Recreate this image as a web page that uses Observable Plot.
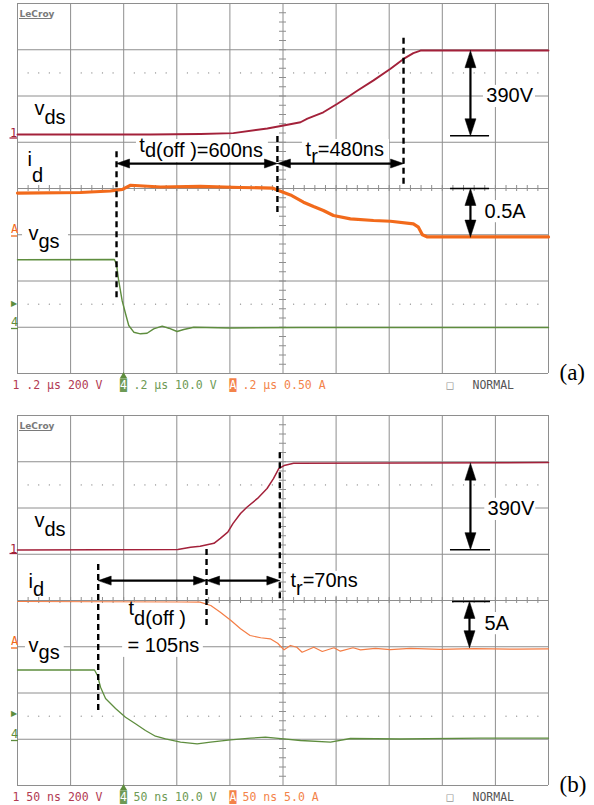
<!DOCTYPE html>
<html><head><meta charset="utf-8">
<script src="https://cdn.jsdelivr.net/npm/d3@7"></script>
<script src="https://cdn.jsdelivr.net/npm/@observablehq/plot@0.6"></script>
<style>
html,body{margin:0;padding:0;background:#fff;}
svg{display:block;}
</style></head><body><div id="chart"></div>
<script>
// ---------- Panel (a): 0.2 us/div ----------
const vdsA_t = [0, 500, 689, 813, 941, 1002, 1066, 1092, 1152, 1205, 1243, 1281, 1341, 1405, 1454, 1491, 1518, 2000];
const vdsA_v = [0, 0, 2, 6, 26, 39, 53, 69, 96, 133, 161, 190, 234, 284, 327, 352, 363, 363];
const idA_t = [0, 237, 350, 395, 426, 539, 689, 840, 960, 983, 1028, 1077, 1115, 1152, 1190, 1254, 1341, 1405, 1491, 1510, 1525, 1544, 2000];
const idA_i = [0.451, 0.457, 0.473, 0.49, 0.535, 0.516, 0.522, 0.511, 0.505, 0.478, 0.430, 0.352, 0.305, 0.262, 0.208, 0.172, 0.154, 0.146, 0.118, 0.082, 0.0, -0.024, -0.024];
const vgsA_t = [0, 365, 373, 381, 394, 407, 419, 438, 463, 488, 513, 545, 570, 601, 626, 664, 802, 1066, 2000];
const vgsA_v = [14.58, 14.65, 13.57, 10.11, 5.79, 2.91, 0.38, -1.07, -1.42, -1.29, -0.34, 0.23, -0.21, -0.92, -0.49, 0.01, -0.16, -0.05, -0.05];

// ---------- Panel (b): 50 ns/div ----------
const vdsB_t = [0, 151, 163, 172, 185, 191, 198, 203, 210, 216, 226, 235, 241, 246, 251, 260, 500];
const vdsB_v = [0, 2, 12, 16, 29, 50, 77, 115, 158, 185, 223, 266, 309, 352, 365, 375, 378];
const idB_t = [0, 154, 172, 182, 191, 201, 210, 219, 229, 238, 245, 251, 257, 263, 268, 279, 287, 298, 304, 316, 323, 337, 351, 370, 398, 430, 470, 500];
const idB_i = [4.89, 4.84, 4.82, 4.46, 3.73, 2.84, 1.94, 1.22, 0.97, 0.86, 0.38, -0.33, 0.14, -0.05, -0.59, -0.05, -0.51, -0.11, -0.48, -0.11, -0.33, -0.17, -0.32, -0.18, -0.28, -0.2, -0.26, -0.22];
const vgsB_t = [0, 72.5, 75.3, 78.2, 82.9, 92.3, 101.7, 111.1, 120.5, 129.9, 139.4, 153.5, 169.2, 181.7, 200.6, 219.4, 233.5, 250.5, 266.5, 294.7, 313.5, 360.6, 436, 500];
const vgsB_v = [14.97, 14.97, 13.78, 11.25, 8.81, 6.65, 4.77, 3.34, 1.89, 0.66, 0.10, -0.64, -0.98, -0.64, -0.12, 0.23, 0.44, 0.10, -0.27, -0.64, 0.16, 0.05, 0.23, 0.23];

// Channel settings (per division) and scope readouts
const scaleA = {vds: 200, id: 0.5, vgs: 10, ns: 200};
const scaleB = {vds: 200, id: 5, vgs: 10, ns: 50};
const footerA = ["1 .2 μs 200 V", ".2 μs 10.0 V", ".2 μs 0.50 A", "NORMAL"];
const footerB = ["1 50 ns 200 V", "50 ns 10.0 V", "50 ns 5.0 A", "NORMAL"];

// Annotations (time in ns, level in divisions from bottom)
const labelsA = [
  {text: "v_{ds}", t: 64, y: 5.58, shift: 9},
  {text: "i_{d}", t: 38, y: 4.48, shift: 16},
  {text: "v_{gs}", t: 41, y: 2.88, shift: 8},
  {text: "t_{d(off )=600ns}", t: 459, y: 4.78, shift: 5},
  {text: "t_{r}=480ns", t: 1085, y: 4.71, shift: 7},
  {text: "390V", t: 1766, y: 5.86},
  {text: "0.5A", t: 1759, y: 3.37}
];
const boxesA = [
  {t1: 19, t2: 192, y1: 2.55, y2: 3.18},
  {t1: 448, t2: 945, y1: 4.56, y2: 5.06},
  {t1: 1073, t2: 1401, y1: 4.56, y2: 5.06},
  {t1: 1755, t2: 1951, y1: 5.75, y2: 6.23},
  {t1: 1747, t2: 1921, y1: 3.26, y2: 3.74}
];
const dashesA = [{t: 373, y1: 1.64, y2: 4.82}, {t: 979, y1: 3.48, y2: 5.15}, {t: 1454, y1: 4.09, y2: 7.26}];
const hArrowsA = [{t1: 373, t2: 979, y: 4.54}, {t1: 979, t2: 1454, y: 4.54}];
const vArrowsA = [{t: 1706, y1: 6.98, y2: 5.14}, {t: 1706, y1: 4.0, y2: 2.95}];
const barsA = [{t1: 1631, t2: 1778, y: 5.14}, {t1: 1631, t2: 1778, y: 4.0}];

const labelsB = [
  {text: "v_{ds}", t: 16, y: 5.58, shift: 9},
  {text: "i_{d}", t: 10.4, y: 4.28, shift: 8},
  {text: "v_{gs}", t: 10.4, y: 2.88, shift: 7},
  {text: "t_{d(off )}", t: 104.5, y: 3.68, shift: 10},
  {text: "= 105ns", t: 103.6, y: 2.89},
  {text: "t_{r}=70ns", t: 257, y: 4.29, shift: 8},
  {text: "390V", t: 442.6, y: 5.84},
  {text: "5A", t: 439.7, y: 3.37}
];
const boxesB = [
  {t1: 7.5, t2: 44, y1: 2.62, y2: 3.2},
  {t1: 99, t2: 175, y1: 2.77, y2: 3.96},
  {t1: 254, t2: 325, y1: 4.09, y2: 4.63},
  {t1: 440, t2: 488, y1: 5.73, y2: 6.21},
  {t1: 437, t2: 466, y1: 3.26, y2: 3.74}
];
const dashesB = [{t: 76, y1: 1.62, y2: 4.8}, {t: 178, y1: 3.46, y2: 5.12}, {t: 247, y1: 4.04, y2: 7.24}];
const hArrowsB = [{t1: 76, t2: 178, y: 4.43}, {t1: 178, t2: 247, y: 4.43}];
const vArrowsB = [{t: 426.5, y1: 6.97, y2: 5.10}, {t: 425.6, y1: 3.98, y2: 2.98}];
const barsB = [{t1: 407.7, t2: 445.4, y: 5.10}, {t1: 409.6, t2: 445.4, y: 3.98}];

// ---------- styling ----------
const GRID = "#8e8e8e";
const RED = "#a3213a", ORANGE_A = "#f26a1b", ORANGE_B = "#f47d45", GREEN = "#5e8d3e";
const F_RED = "#b23a52", F_GREEN = "#6d9a55", F_ORANGE = "#f3834a";
const SANS = "Liberation Sans, Arial, sans-serif";
const MONO = "DejaVu Sans Mono, monospace";

function series(ts, vs, perDiv, ground) {
  return ts.map((t, i) => ({t, d: ground + vs[i] / perDiv}));
}

function drawPanel(P) {
  const ns = P.sc.ns;
  const X = px => (px - 17) / 53.1 * ns;    // screen px -> ns
  const Y = py => (373 - py) / 46.25;       // screen px -> divisions
  const sx = ns / 53.1, sy = 1 / 46.25;
  const majorX = d3.range(11).map(i => i * ns);
  const majorY = d3.range(9);
  const minorX = d3.range(51).map(i => i * ns / 5);
  const minorY = d3.range(41).map(i => i / 5);
  const dots = [];
  for (const y of [1.5, 6.5]) for (let i = 1; i < 50; i++) if (i % 5) dots.push({t: i * ns / 5, y});

  const heads = []; let hid = 0;
  const head = (t, y, dir, L, W) => {
    const id = hid++;
    const pts = dir === "left" ? [[t, y], [t + L * sx, y + W * sy], [t + L * sx, y - W * sy]]
      : dir === "right" ? [[t, y], [t - L * sx, y + W * sy], [t - L * sx, y - W * sy]]
      : dir === "up" ? [[t, y], [t - W * sx, y - L * sy], [t + W * sx, y - L * sy]]
      : [[t, y], [t - W * sx, y + L * sy], [t + W * sx, y + L * sy]];
    for (const [a, b] of pts) heads.push({id, t: a, y: b});
    heads.push({id, t: pts[0][0], y: pts[0][1]});
  };
  P.hArrows.forEach(a => { head(a.t1, a.y, "left", 13, 4.5); head(a.t2, a.y, "right", 13, 4.5); });
  P.vArrows.forEach(a => { head(a.t, a.y1, "up", 17, 5.5); head(a.t, a.y2, "down", 17, 5.5); });

  const footer = [
    {s: P.footer[0], px: 12, c: F_RED},
    {s: P.footer[1], px: 133, c: F_GREEN},
    {s: P.footer[2], px: 242, c: F_ORANGE},
    {s: "□", px: 446, c: "#999"},
    {s: P.footer[3], px: 472, c: "#555"}
  ];
  const footBoxes = [{s: "4", px: 119.5, c: F_GREEN}, {s: "A", px: 229, c: F_ORANGE}];
  const markers = [
    {s: "1", px: 9.5, py: P.vdsGroundPx + 2.5, c: RED},
    {s: "A", px: 10.5, py: 232.5, c: ORANGE_A},
    {s: "4", px: 10.5, py: 325, c: GREEN}
  ];
  const markerLines = [
    {x1: 9.5, x2: 17, py: P.vdsGroundPx + 3.5, c: RED},
    {x1: 11, x2: 17, py: 235.5, c: ORANGE_A},
    {x1: 11, x2: 18, py: 328, c: GREEN}
  ];

  const svg = Plot.plot({
    width: 594, height: P.height,
    marginTop: 3, marginLeft: 17, marginRight: 46, marginBottom: P.height - 373,
    x: {domain: [0, 10 * ns], axis: null},
    y: {domain: [0, 8], axis: null},
    style: {background: "white", overflow: "visible", fontFamily: SANS},
    marks: [
      Plot.ruleX(majorX, {stroke: GRID, strokeWidth: 1}),
      Plot.ruleY(majorY, {stroke: GRID, strokeWidth: 1}),
      Plot.ruleX(minorX, {y1: () => 4 - 3 * sy, y2: () => 4 + 3 * sy, stroke: GRID}),
      Plot.ruleY(minorY, {x1: () => 5 * ns - 3.5 * sx, x2: () => 5 * ns + 3.5 * sx, stroke: GRID}),
      Plot.dot(dots, {x: "t", y: "y", r: 0.65, fill: "#8a8a8a", stroke: "none"}),
      Plot.rect(P.boxes, {x1: "t1", x2: "t2", y1: "y1", y2: "y2", fill: "white"}),
      ...P.traces.map(tr => Plot.line(tr.data, {x: "t", y: "d", stroke: tr.stroke, strokeWidth: tr.w, strokeLinejoin: "round"})),
      Plot.ruleX(P.dashes, {x: "t", y1: "y1", y2: "y2", stroke: "black", strokeWidth: 2.4, strokeDasharray: "6,4"}),
      Plot.ruleY(P.bars, {y: "y", x1: "t1", x2: "t2", stroke: "black", strokeWidth: 1.5}),
      Plot.ruleY(P.hArrows, {y: "y", x1: d => d.t1 + 6 * sx, x2: d => d.t2 - 6 * sx, stroke: "black", strokeWidth: 2.2}),
      Plot.ruleX(P.vArrows, {x: "t", y1: d => d.y2 + 8 * sy, y2: d => d.y1 - 8 * sy, stroke: "black", strokeWidth: 2.2}),
      Plot.line(heads, {x: "t", y: "y", z: "id", fill: "black", stroke: "black", strokeWidth: 0.5}),
      Plot.text(P.labels, {x: "t", y: "y", text: "text", textAnchor: "start", lineAnchor: "bottom", fontSize: 20, fontFamily: SANS, fill: "black"}),
      // scope chrome: logo, channel markers, trigger, readouts, panel tag
      Plot.text(["LeCroy"], {x: () => X(19), y: () => Y(16), textAnchor: "start", lineAnchor: "bottom", fontSize: 9, fontWeight: "bold", fontFamily: "DejaVu Sans, sans-serif", fill: "#7a7a7a"}),
      Plot.ruleY([0], {y: () => Y(18), x1: () => X(19), x2: () => X(50), stroke: "#7a7a7a", strokeWidth: 1}),
      Plot.text(markers, {x: d => X(d.px), y: d => Y(d.py), text: "s", fill: "c", textAnchor: "start", lineAnchor: "bottom", fontSize: 12, fontFamily: MONO}),
      Plot.ruleY(markerLines, {y: d => Y(d.py), x1: d => X(d.x1), x2: d => X(d.x2), stroke: "c", strokeWidth: 1.3}),
      Plot.text(["▶"], {x: () => X(13.5), y: () => Y(P.trigPx), text: d => d, fill: GREEN, fontSize: 8, fontFamily: "DejaVu Sans, sans-serif"}),
      Plot.dot([0], {x: () => X(123), y: () => Y(375.5), symbol: "triangle", r: 2.6, fill: GREEN, stroke: "none"}),
      Plot.text(footBoxes, {x: d => X(d.px), y: () => Y(388.5), text: () => "█", fill: "c", textAnchor: "start", lineAnchor: "bottom", fontSize: 11.5, fontFamily: MONO}),
      Plot.text(footBoxes, {x: d => X(d.px), y: () => Y(388.5), text: "s", fill: "white", textAnchor: "start", lineAnchor: "bottom", fontSize: 11.5, fontFamily: MONO}),
      Plot.text(footer, {x: d => X(d.px), y: () => Y(388.5), text: "s", fill: "c", textAnchor: "start", lineAnchor: "bottom", fontSize: 11.5, fontFamily: MONO}),
      Plot.text([P.tag], {x: () => X(559), y: () => Y(379), text: d => d, textAnchor: "start", lineAnchor: "bottom", fontSize: 23, fontFamily: "Liberation Serif, Times New Roman, serif", fill: "black"})
    ]
  });

  // subscripts: "main_{sub}rest"
  const shifts = new Map(P.labels.map(l => [l.text, l.shift || 0]));
  d3.select(svg).selectAll("text").each(function () {
    const s = this.textContent;
    const m = s.match(/^(.*?)_\{(.*?)\}(.*)$/);
    if (!m) return;
    const sh = shifts.get(s) ?? 7;
    this.textContent = "";
    const sel = d3.select(this);
    sel.append("tspan").text(m[1]);
    sel.append("tspan").attr("dy", sh).text(m[2]);
    if (m[3]) sel.append("tspan").attr("dy", -sh).text(m[3]);
  });
  return svg;
}

const panelA = {
  sc: scaleA, height: 412, tag: "(a)", footer: footerA, vdsGroundPx: 134, trigPx: 302.5,
  traces: [
    {data: series(vdsA_t, vdsA_v, scaleA.vds, (373 - 134) / 46.25), stroke: RED, w: 1.9},
    {data: series(idA_t, idA_i, scaleA.id, 3), stroke: ORANGE_A, w: 3.2},
    {data: series(vgsA_t, vgsA_v, scaleA.vgs, 1), stroke: GREEN, w: 1.4}
  ],
  labels: labelsA, boxes: boxesA, dashes: dashesA, hArrows: hArrowsA, vArrows: vArrowsA, bars: barsA
};
const panelB = {
  sc: scaleB, height: 393, tag: "(b)", footer: footerB, vdsGroundPx: 137.5, trigPx: 300.5,
  traces: [
    {data: series(vdsB_t, vdsB_v, scaleB.vds, (373 - 137.5) / 46.25), stroke: RED, w: 1.5},
    {data: series(idB_t, idB_i, scaleB.id, 3), stroke: ORANGE_B, w: 1.2},
    {data: series(vgsB_t, vgsB_v, scaleB.vgs, 1), stroke: GREEN, w: 1.3}
  ],
  labels: labelsB, boxes: boxesB, dashes: dashesB, hArrows: hArrowsB, vArrows: vArrowsB, bars: barsB
};

const root = document.getElementById("chart");
root.appendChild(drawPanel(panelA));
root.appendChild(drawPanel(panelB));
</script>
</body></html>
